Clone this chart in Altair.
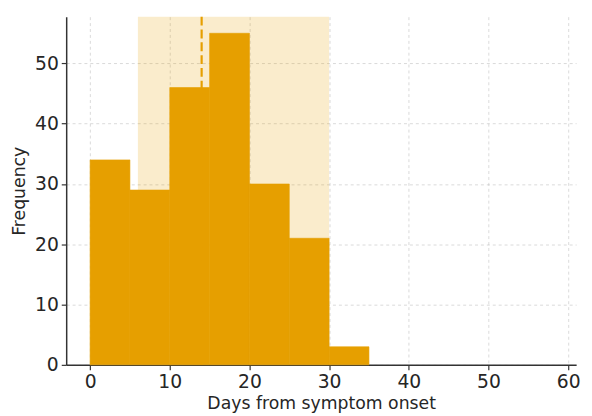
import altair as alt
import pandas as pd

bin_start = [0, 5, 10, 15, 20, 25, 30]
bin_end = [5, 10, 15, 20, 25, 30, 35]
counts = [34, 29, 46, 55, 30, 21, 3]
shade_range = [6, 30]
median_day = [14]

ORANGE = "#E69F00"
W, H = 517, 353

bars_df = pd.DataFrame({"start": bin_start, "end": bin_end, "count": counts})
shade_df = pd.DataFrame({"a": [shade_range[0]], "b": [shade_range[1]]})
line_df = pd.DataFrame({"x": median_day})

xscale = alt.Scale(domain=[-3, 61], nice=False, zero=False)
yscale = alt.Scale(domain=[0, 57.75], nice=False)

shade = alt.Chart(shade_df).mark_rect(color=ORANGE, opacity=0.2).encode(
    x=alt.X("a:Q", scale=xscale),
    x2="b:Q",
    y=alt.value(0),
    y2=alt.value(H),
)

bars = alt.Chart(bars_df).mark_rect(
    color=ORANGE, stroke=ORANGE, strokeWidth=0.6
).encode(
    x=alt.X(
        "start:Q",
        scale=xscale,
        title="Days from symptom onset",
        axis=alt.Axis(values=[0, 10, 20, 30, 40, 50, 60]),
    ),
    x2="end:Q",
    y=alt.Y(
        "count:Q",
        scale=yscale,
        title="Frequency",
        axis=alt.Axis(values=[0, 10, 20, 30, 40, 50]),
    ),
    y2=alt.datum(0),
)

vline = alt.Chart(line_df).mark_rule(
    color=ORANGE, strokeDash=[9, 4], strokeWidth=2.2
).encode(
    x=alt.X("x:Q", scale=xscale),
    y=alt.value(0),
    y2=alt.value(H),
)

chart = (
    alt.layer(shade, bars, vline)
    .properties(
        width=W,
        height=H,
        autosize=alt.AutoSizeParams(type="none"),
        padding={"left": 59, "top": 6, "right": 8, "bottom": 46},
    )
    .configure_view(stroke=None)
    .configure_axis(
        labelFont="DejaVu Sans",
        titleFont="DejaVu Sans",
        labelFontSize=19,
        titleFontSize=17.5,
        titleFontWeight="normal",
        labelColor="#262626",
        titleColor="#262626",
        domainColor="#333333",
        domainWidth=1.5,
        tickColor="#333333",
        tickSize=5,
        tickWidth=1.2,
        gridColor="#b0b0b0",
        gridOpacity=0.6,
        gridDash=[3, 3],
        gridWidth=0.8,
        zindex=1,
        labelPadding=3,
    )
    .configure_axisX(titlePadding=3)
    .configure_axisY(titlePadding=6)
)

chart.save("out.html", embed_options={"renderer": "svg", "actions": False})
